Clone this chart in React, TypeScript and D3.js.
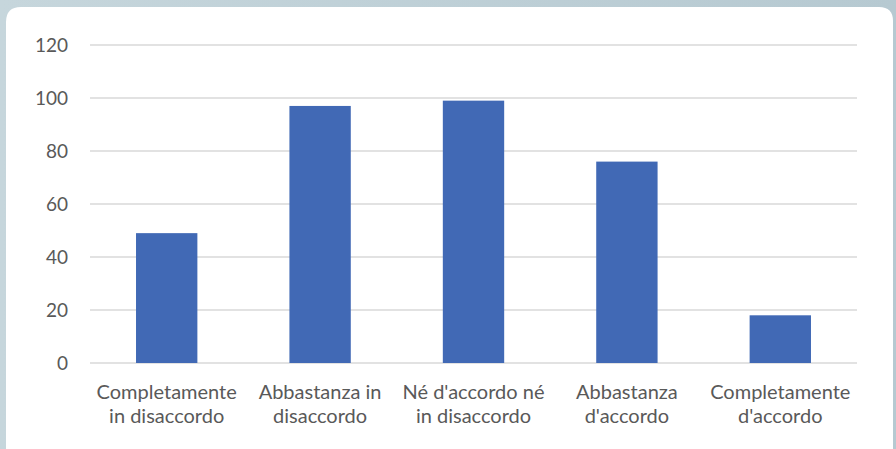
import React from "react";
import * as d3 from "d3";

const categories: string[][] = [
  ["Completamente", "in disaccordo"],
  ["Abbastanza in", "disaccordo"],
  ["Né d'accordo né", "in disaccordo"],
  ["Abbastanza", "d'accordo"],
  ["Completamente", "d'accordo"],
];
const values: number[] = [49, 97, 99, 76, 18];
const yTicks: number[] = [0, 20, 40, 60, 80, 100, 120];

const W = 896;
const H = 449;
const left = 90;
const right = 857;
const top = 45;
const bottom = 363;

export default function App() {
  const x = d3
    .scaleBand<number>()
    .domain(values.map((_, i) => i))
    .range([left, right])
    .paddingInner(0.6)
    .paddingOuter(0.3);
  const y = d3.scaleLinear().domain([0, 120]).range([bottom, top]);
  const font = "Lato, 'Open Sans', sans-serif";
  return (
    <svg
      width={W}
      height={H}
      style={{ position: "absolute", left: 0, top: 0 }}
      fontFamily={font}
    >
      <defs>
        <linearGradient id="bg" x1="0" y1="0" x2="1" y2="0">
          <stop offset="0" stopColor="#c6d6dc" />
          <stop offset="1" stopColor="#b6c9d1" />
        </linearGradient>
      </defs>
      <rect x={0} y={0} width={W} height={H} fill="url(#bg)" />
      <path
        d={`M6,${H + 20} L6,22 Q6,7 21,7 L879,7 Q893,7 893,21 L893,${H + 20} Z`}
        fill="#ffffff"
      />
      {yTicks.map((t) => (
        <g key={t}>
          <line
            x1={left}
            x2={right}
            y1={y(t)}
            y2={y(t)}
            stroke="#d9d9d9"
            strokeWidth={1.3}
          />
          <text
            x={68}
            y={y(t)}
            dy="0.35em"
            textAnchor="end"
            fontSize={19}
            fill="#595959"
          >
            {t}
          </text>
        </g>
      ))}
      {values.map((v, i) => (
        <rect
          key={i}
          x={x(i)}
          y={y(v)}
          width={x.bandwidth()}
          height={y(0) - y(v)}
          fill="#4169b5"
        />
      ))}
      {categories.map((lines, i) => (
        <text
          key={i}
          x={(x(i) as number) + x.bandwidth() / 2}
          textAnchor="middle"
          fontSize={20}
          fill="#595959"
        >
          {lines.map((l, j) => (
            <tspan key={j} x={(x(i) as number) + x.bandwidth() / 2} y={399 + j * 24}>
              {l}
            </tspan>
          ))}
        </text>
      ))}
    </svg>
  );
}
